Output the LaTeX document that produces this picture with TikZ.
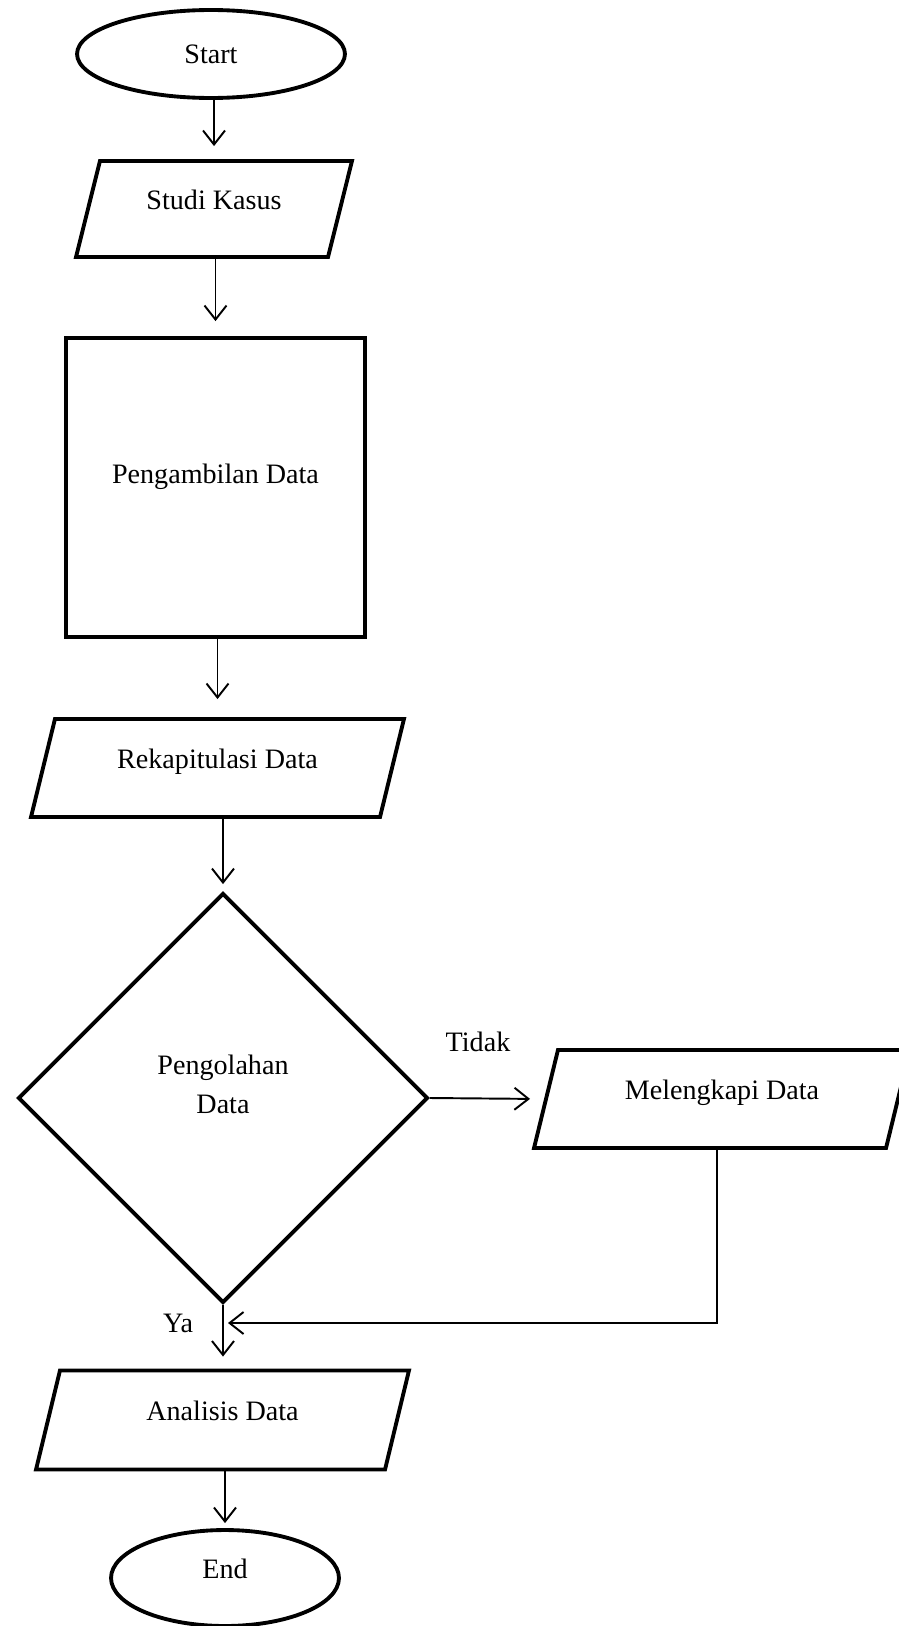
\documentclass[tikz,border=0pt]{standalone}
\usepackage{fontspec}
\setmainfont{Liberation Serif}
\usetikzlibrary{calc,arrows.meta,shapes.geometric}

\begin{document}
\begin{tikzpicture}[%
    x=0.02cm,%
    y=-0.02cm,%
    font=\fontsize{16pt}{22pt}\selectfont,%
  ]
  %
  % Définitions
  %
  \tikzset{
    bloc/.style={draw, line width=2.2pt, inner sep=0pt, align=center},
    terminal/.style={bloc, ellipse},
    donnee/.style={bloc, trapezium, trapezium left angle=76,
      trapezium right angle=104, trapezium stretches body,
      text height=0.4cm, text depth=0.4cm, inner ysep=0.56cm},
    processus/.style={bloc, rectangle, text height=0.4cm, text depth=0.58cm},
    decision/.style={bloc, diamond, aspect=1},
    fleche/.style={line width=1.1pt, -{Straight Barb[length=0.28cm,width=0.44cm]}},
  }
  \pgfmathsetmacro{\xg}{0};%
  \pgfmathsetmacro{\xd}{899};%
  \pgfmathsetmacro{\yh}{0};%
  \pgfmathsetmacro{\yb}{1626};%
  \pgfmathsetmacro{\yjoin}{1323};%

  \useasboundingbox (\xg,\yh) rectangle (\xd,\yb);

  %
  % Dessin
  %
  % Colonne principale
  \node[terminal, minimum width=5.36cm, minimum height=1.76cm] (start) at (211,54) {Start};
  \node[donnee, minimum width=5.52cm, minimum height=1.9cm] (kasus) at (214,209) {Studi Kasus};
  \node[processus, minimum width=5.98cm, minimum height=5.98cm] (ambil) at (215.5,487.5) {Pengambilan Data};
  \node[donnee, minimum width=7.46cm, minimum height=1.96cm] (rekap) at (217.5,768) {Rekapitulasi Data};
  \node[decision, minimum width=8.2cm, minimum height=8.2cm,
    text height=1.15cm, text depth=0.55cm] (olah) at (223,1098) {Pengolahan\\Data};
  \node[donnee, minimum width=7.46cm, minimum height=1.98cm] (analisis) at (222.5,1420) {Analisis Data};
  \node[terminal, minimum width=4.56cm, minimum height=1.92cm,
    text height=0.4cm, text depth=0.4cm] (end) at (225,1578) {End};

  % Branche Tidak
  \node[donnee, minimum width=7.52cm, minimum height=1.96cm] (lengkap) at (722,1099) {Melengkapi Data};
  \node (tidak) at (478,1042) {Tidak};
  \node (ya) at (178,\yjoin) {Ya};
  \coordinate (jonction) at (olah.south |- 0,\yjoin);

  % Flèches
  \draw[fleche, shorten >=0.26cm] (start.south -| kasus.north) -- (kasus.north);
  \draw[fleche, shorten >=0.3cm] (kasus.south -| ambil.north) -- (ambil.north);
  \draw[fleche, shorten >=0.36cm] (ambil.south -| rekap.north) -- (rekap.north);
  \draw[fleche, shorten >=0.14cm] (rekap.south -| olah.north) -- (olah.north);
  \draw[fleche, shorten >=0.28cm] (olah.east) -- (lengkap.west);
  \draw[fleche, shorten >=0.24cm] (olah.south) -- (olah.south |- analisis.north);
  \draw[fleche, shorten >=0.1cm] ($(lengkap.south)+(-5,0)$) |- (jonction);
  \draw[fleche, shorten >=0.1cm] (analisis.south -| end.north) -- (end.north);

\end{tikzpicture}
\end{document}
